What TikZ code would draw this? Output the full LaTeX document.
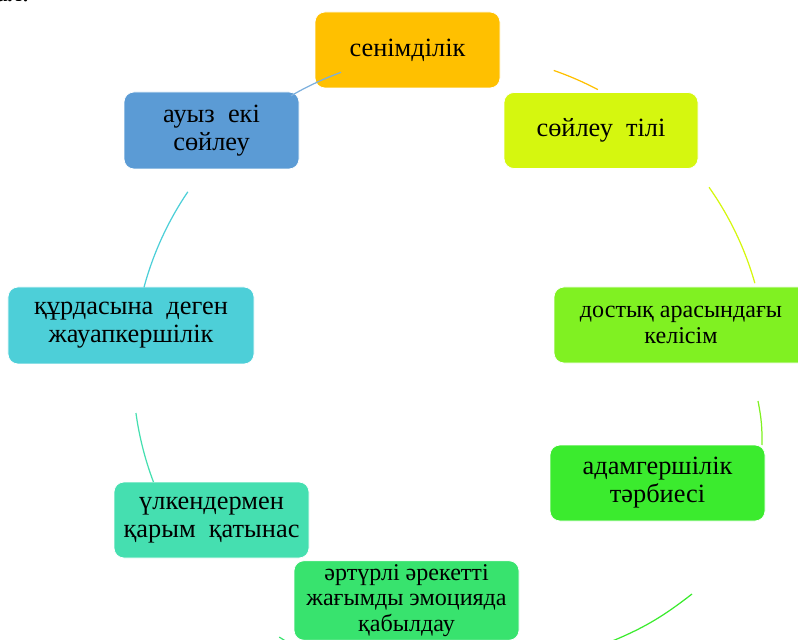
\documentclass[tikz,border=0pt]{standalone}
\usepackage{fontspec}
\setmainfont{Liberation Serif}
\definecolor{trustcol}{HTML}{FFC000}
\definecolor{speechcol}{HTML}{D5F70F}
\definecolor{friendcol}{HTML}{80F122}
\definecolor{moralcol}{HTML}{3BEB2E}
\definecolor{emocol}{HTML}{38E36E}
\definecolor{eldercol}{HTML}{45DFB0}
\definecolor{peercol}{HTML}{4DCFD8}
\definecolor{oralcol}{HTML}{5B9BD5}
\tikzset{
    cyclebox/.style={draw=white, line width=0.4pt, rounded corners=0.2cm, align=center, text=black, inner sep=2pt, minimum height=1.52cm, font=\fontsize{15}{16}\selectfont},
    smalltext/.style={font=\fontsize{13.7}{14.6}\selectfont},
    widespace/.style={execute at begin node={\spaceskip=0.5em\relax}},
    cyclearc/.style={line width=0.7pt}
}
\begin{document}
\begin{tikzpicture}
    \useasboundingbox (0,0) rectangle (15.96,12.78);
    \clip (0,0) rectangle (15.96,12.78);
    % text cut at the top edge
    \node[anchor=base west, inner sep=0pt, font=\fontsize{16}{17}\selectfont] (cut) at (-0.1,12.74) {ал.};

    \node[cyclebox, fill=trustcol, minimum width=3.7cm] (trust) at (8.15,11.78) {сенімділік};
    \node[cyclebox, widespace, fill=speechcol, minimum width=3.88cm] (speech) at (12.02,10.17) {сөйлеу тілі};
    \node[cyclebox, smalltext, fill=friendcol, minimum width=5.08cm] (friend) at (13.62,6.28) {достық арасындағы\\келісім};
    \node[cyclebox, fill=moralcol, minimum width=4.3cm] (moral) at (13.15,3.12) {адамгершілік\\тәрбиесі};
    \node[cyclebox, smalltext, fill=emocol, minimum width=4.5cm, minimum height=1.5cm] (emo) at (8.13,0.77) {әртүрлі әрекетті\\жағымды эмоцияда\\қабылдау};
    \node[cyclebox, widespace, fill=eldercol, minimum width=3.9cm] (elder) at (4.23,2.38) {үлкендермен\\қарым қатынас};
    \node[cyclebox, widespace, fill=peercol, minimum width=4.92cm, minimum height=1.54cm] (peer) at (2.62,6.27) {құрдасына деген\\жауапкершілік};
    \node[cyclebox, widespace, fill=oralcol, minimum width=3.5cm, minimum height=1.54cm] (oral) at (4.23,10.17) {ауыз екі\\сөйлеу};

    % arcs of the cycle
    \coordinate (ctr) at (9.0,5.38);
    \draw[cyclearc, trustcol] (ctr) ++(70.9:6.34) arc[start angle=70.9, end angle=62.2, radius=6.34cm];
    \draw[cyclearc, speechcol] (ctr) ++(35.2:6.34) arc[start angle=35.2, end angle=15.9, radius=6.34cm];
    \draw[cyclearc, friendcol] (15.16,4.76) to[bend left=6] (15.24,3.88);
    \draw[cyclearc, moralcol] (13.84,0.9) to[bend left=8] (12.1,-0.1);
    \draw[cyclearc, emocol] (ctr) ++(-119:6.34) arc[start angle=-119, end angle=-122.6, radius=6.34cm];
    \draw[cyclearc, eldercol] (ctr) ++(200.7:6.34) arc[start angle=200.7, end angle=187.8, radius=6.34cm];
    \draw[cyclearc, peercol] (ctr) ++(164.9:6.34) arc[start angle=164.9, end angle=145.8, radius=6.34cm];
    \draw[cyclearc, oralcol!80] (ctr) ++(120.1:6.34) arc[start angle=120.1, end angle=110.1, radius=6.34cm];
\end{tikzpicture}
\end{document}
